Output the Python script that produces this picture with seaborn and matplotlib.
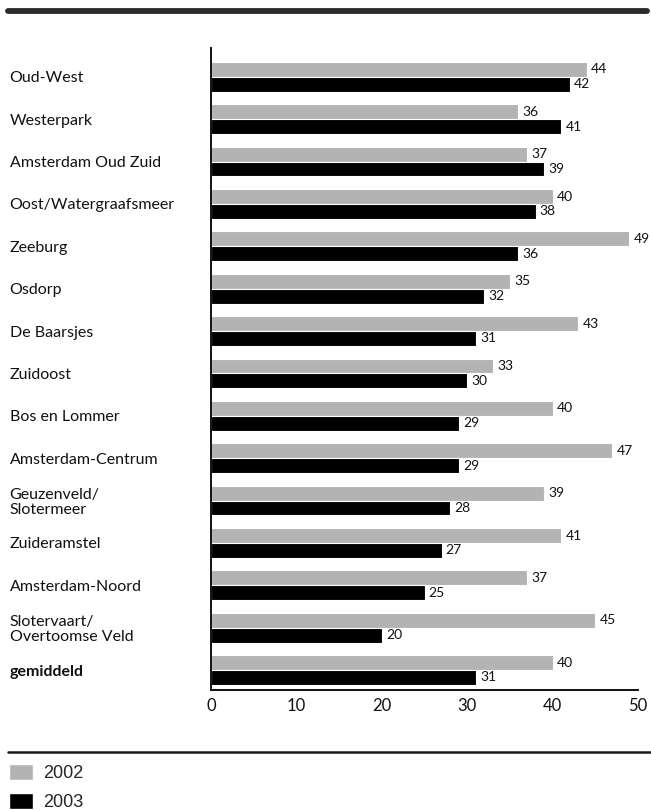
import pandas as pd
import matplotlib.pyplot as plt
import seaborn as sns
from matplotlib.lines import Line2D
from matplotlib.patches import Patch

# ── Data ────────────────────────────────────────────────────────────────────
districts = [
    "Oud-West", "Westerpark", "Amsterdam Oud Zuid", "Oost/Watergraafsmeer",
    "Zeeburg", "Osdorp", "De Baarsjes", "Zuidoost", "Bos en Lommer",
    "Amsterdam-Centrum", "Geuzenveld/\nSlotermeer", "Zuideramstel",
    "Amsterdam-Noord", "Slotervaart/\nOvertoomse Veld", "gemiddeld",
]
vals_2002 = [44, 36, 37, 40, 49, 35, 43, 33, 40, 47, 39, 41, 37, 45, 40]
vals_2003 = [42, 41, 39, 38, 36, 32, 31, 30, 29, 29, 28, 27, 25, 20, 31]
years = ["2002", "2003"]

C_2002 = "#b3b3b3"
C_2003 = "#000000"
FONT = "Lato"

df = pd.DataFrame({
    "wijk": districts * 2,
    "jaar": ["2002"] * len(districts) + ["2003"] * len(districts),
    "waarde": vals_2002 + vals_2003,
})

# ── Figure ──────────────────────────────────────────────────────────────────
sns.set_style("white")
plt.rcParams["font.family"] = [FONT, "DejaVu Sans"]

fig = plt.figure(figsize=(6.51, 8.10), dpi=100)
ax = fig.add_axes([211 / 651, 1 - 690 / 810, 427 / 651, 642 / 810])

sns.barplot(
    data=df, y="wijk", x="waarde", hue="jaar",
    order=districts, hue_order=years,
    palette={"2002": C_2002, "2003": C_2003},
    orient="h", width=0.7, dodge=True,
    edgecolor="white", linewidth=0.8,
    ax=ax, legend=False,
)

for cont in ax.containers:
    ax.bar_label(cont, padding=3, fontsize=10, fontfamily=FONT,
                 color="#111111")

ax.set_xlim(0, 50)
ax.set_ylim(len(districts) - 1 + 0.47, -0.68)
ax.set_xticks([0, 10, 20, 30, 40, 50])
ax.set_xlabel("")
ax.set_ylabel("")

ax.tick_params(axis="x", length=0, labelsize=12, pad=6, colors="#111111")
ax.tick_params(axis="y", length=0, labelsize=11.5, pad=145, colors="#111111")
for lab in ax.get_yticklabels():
    lab.set_ha("left")
    lab.set_linespacing(1.05)
    if lab.get_text() == "gemiddeld":
        lab.set_fontweight("bold")
for lab in ax.get_yticklabels() + ax.get_xticklabels():
    lab.set_fontfamily(FONT)

for side in ["top", "right"]:
    ax.spines[side].set_visible(False)
for side in ["left", "bottom"]:
    ax.spines[side].set_color("#111111")
    ax.spines[side].set_linewidth(1.4)

# ── Rules ───────────────────────────────────────────────────────────────────
fig.add_artist(Line2D([8 / 651, 647 / 651], [1 - 10.5 / 810] * 2,
                      color="#2b2b2b", lw=4.2, transform=fig.transFigure))
fig.add_artist(Line2D([8 / 651, 1.0], [1 - 752 / 810] * 2,
                      color="#1a1a1a", lw=1.8, transform=fig.transFigure))

# ── Legend ──────────────────────────────────────────────────────────────────
handles = [Patch(facecolor=C_2002, label="2002"),
           Patch(facecolor=C_2003, label="2003")]
fig.legend(
    handles=handles, loc="upper left",
    bbox_to_anchor=(2 / 651, 1 - 757 / 810),
    frameon=False, prop={"family": "Liberation Sans", "size": 13},
    handlelength=1.3, handleheight=0.95, handletextpad=0.6,
    labelspacing=0.6, borderaxespad=0,
)

fig.savefig("out.png", dpi=100, facecolor="white")
